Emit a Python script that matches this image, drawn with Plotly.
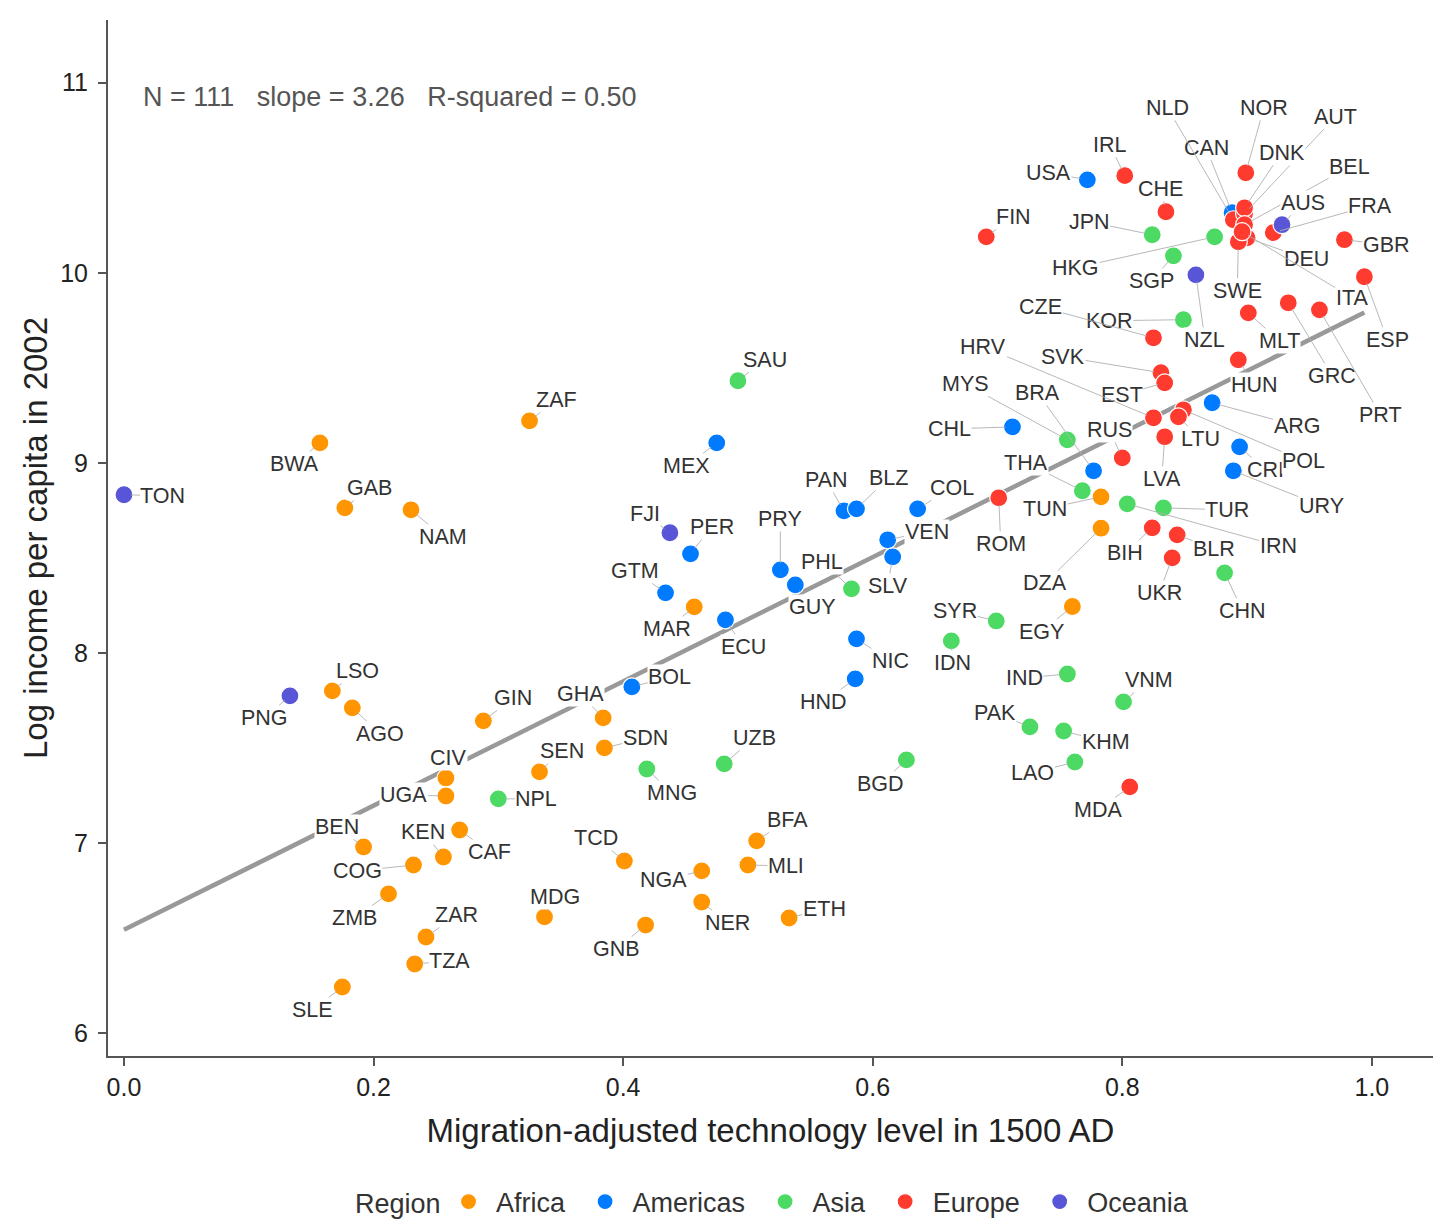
import numpy as np
import plotly.graph_objects as go

# ---------------- data ----------------
regions = ["Africa", "Americas", "Asia", "Europe", "Oceania"]
region_colors = {"Africa": "#FF9500", "Americas": "#007AFF", "Asia": "#4CD964",
                 "Europe": "#FF3B30", "Oceania": "#5856D6"}

africa_codes = ["ZAF", "BWA", "GAB", "NAM", "LSO", "AGO", "GIN", "GHA", "SDN", "SEN", "CIV",
                "UGA", "BEN", "KEN", "CAF", "COG", "ZMB", "ZAR", "TZA", "SLE", "MDG", "TCD",
                "NGA", "NER", "GNB", "BFA", "MLI", "ETH", "MAR", "TUN", "DZA", "EGY"]
africa_x = [0.325, 0.157, 0.177, 0.230, 0.167, 0.183, 0.288, 0.384, 0.385, 0.333, 0.258,
            0.258, 0.192, 0.256, 0.269, 0.232, 0.212, 0.242, 0.233, 0.175, 0.337, 0.401,
            0.463, 0.463, 0.418, 0.507, 0.500, 0.533, 0.457, 0.783, 0.783, 0.760]
africa_y = [9.221, 9.105, 8.763, 8.753, 7.800, 7.711, 7.642, 7.658, 7.500, 7.374, 7.342,
            7.247, 6.979, 6.926, 7.068, 6.884, 6.732, 6.505, 6.363, 6.242, 6.611, 6.905,
            6.853, 6.689, 6.568, 7.011, 6.884, 6.605, 8.242, 8.821, 8.656, 8.244]

americas_codes = ["USA", "CAN", "MEX", "PAN", "BLZ", "COL", "VEN", "SLV", "PER", "PRY", "GUY",
                  "GTM", "ECU", "BOL", "NIC", "HND", "CHL", "BRA", "ARG", "CRI", "URY"]
americas_x = [0.772, 0.888, 0.475, 0.577, 0.587, 0.636, 0.612, 0.616, 0.454, 0.526, 0.538,
              0.434, 0.482, 0.407, 0.587, 0.586, 0.712, 0.777, 0.872, 0.894, 0.889]
americas_y = [10.489, 10.316, 9.105, 8.747, 8.758, 8.758, 8.595, 8.505, 8.521, 8.437, 8.358,
              8.316, 8.174, 7.821, 8.074, 7.863, 9.189, 8.958, 9.316, 9.084, 8.958]

asia_codes = ["SAU", "JPN", "HKG", "SGP", "KOR", "MYS", "THA", "IRN", "TUR", "CHN", "SYR",
              "IDN", "PHL", "IND", "VNM", "PAK", "KHM", "LAO", "BGD", "UZB", "MNG", "NPL"]
asia_x = [0.492, 0.824, 0.874, 0.841, 0.849, 0.756, 0.768, 0.804, 0.833, 0.882, 0.699,
          0.663, 0.583, 0.756, 0.801, 0.726, 0.753, 0.762, 0.627, 0.481, 0.419, 0.300]
asia_y = [9.432, 10.200, 10.189, 10.089, 9.753, 9.121, 8.853, 8.784, 8.763, 8.421, 8.168,
          8.063, 8.337, 7.889, 7.742, 7.611, 7.589, 7.426, 7.437, 7.416, 7.389, 7.232]

europe_codes = ["IRL", "CHE", "FIN", "NOR", "NLD", "AUT", "DNK", "BEL", "DEU", "SWE", "ITA",
                "FRA", "GBR", "ESP", "MLT", "GRC", "PRT", "CZE", "SVK", "EST", "HRV", "HUN",
                "POL", "LTU", "LVA", "RUS", "ROM", "BIH", "BLR", "UKR", "MDA"]
europe_x = [0.802, 0.835, 0.691, 0.899, 0.889, 0.898, 0.898, 0.898, 0.900, 0.893, 0.896,
            0.921, 0.978, 0.994, 0.901, 0.933, 0.958, 0.825, 0.831, 0.834, 0.825, 0.893,
            0.849, 0.845, 0.834, 0.800, 0.701, 0.824, 0.844, 0.840, 0.806]
europe_y = [10.511, 10.321, 10.189, 10.526, 10.279, 10.311, 10.342, 10.253, 10.184, 10.163, 10.216,
            10.211, 10.174, 9.979, 9.789, 9.842, 9.805, 9.658, 9.474, 9.421, 9.237, 9.542,
            9.279, 9.242, 9.137, 9.026, 8.816, 8.658, 8.621, 8.500, 7.295]

oceania_codes = ["TON", "PNG", "FJI", "AUS", "NZL"]
oceania_x = [0.000, 0.133, 0.4375, 0.928, 0.859]
oceania_y = [8.832, 7.774, 8.632, 10.253, 9.989]

stats_text = "N = 111   slope = 3.26   R-squared = 0.50"
x_title = "Migration-adjusted technology level in 1500 AD"
y_title = "Log income per capita in 2002"
x_ticks = [0.0, 0.2, 0.4, 0.6, 0.8, 1.0]
y_ticks = [6, 7, 8, 9, 10, 11]

# ---------------- label placement (pixel offsets of label centre from point) ----------------
label_offsets = {
    "ZAF": (27, -21), "BWA": (-25, 21), "GAB": (25, -20), "NAM": (32, 27), "LSO": (25, -20),
    "AGO": (28, 26), "GIN": (30, -23), "GHA": (-23, -24), "SDN": (41, -10), "SEN": (22, -21),
    "CIV": (3, -20), "UGA": (-42, -1), "BEN": (-27, -20), "KEN": (-20, -25), "CAF": (30, 22),
    "COG": (-56, 6), "ZMB": (-34, 24), "ZAR": (31, -22), "TZA": (35, -3), "SLE": (-30, 23),
    "MDG": (10, -20), "TCD": (-28, -23), "NGA": (-38, 9), "NER": (26, 21), "GNB": (-29, 24),
    "BFA": (31, -21), "MLI": (38, 1), "ETH": (35, -9), "MAR": (-27, 22), "TUN": (-56, 12),
    "DZA": (-56, 55), "EGY": (-31, 25),
    "USA": (-39, -7), "CAN": (-26, -65), "MEX": (-30, 23), "PAN": (-18, -31), "BLZ": (32, -31),
    "COL": (34, -21), "VEN": (39, -8), "SLV": (-5, 29), "PER": (21, -27), "PRY": (0, -51),
    "GUY": (17, 22), "GTM": (-31, -22), "ECU": (18, 27), "BOL": (38, -10), "NIC": (34, 22),
    "HND": (-32, 23), "CHL": (-63, 2), "BRA": (-56, -78), "ARG": (85, 23), "CRI": (26, 23),
    "URY": (88, 35),
    "SAU": (27, -21), "JPN": (-63, -13), "HKG": (-139, 31), "SGP": (-22, 25), "KOR": (-74, 1),
    "MYS": (-102, -56), "THA": (-56, -28), "IRN": (151, 42), "TUR": (64, 2), "CHN": (18, 38),
    "SYR": (-41, -10), "IDN": (1, 22), "PHL": (-29, -27), "IND": (-43, 4), "VNM": (25, -22),
    "PAK": (-35, -14), "KHM": (42, 11), "LAO": (-42, 11), "BGD": (-26, 24), "UZB": (30, -26),
    "MNG": (25, 24), "NPL": (38, 0),
    "IRL": (-15, -31), "CHE": (-5, -23), "FIN": (27, -20), "NOR": (18, -65), "NLD": (-66, -112),
    "AUT": (91, -97), "DNK": (37, -55), "BEL": (105, -58), "DEU": (59, 21), "SWE": (-1, 49),
    "ITA": (110, 66), "FRA": (97, -27), "GBR": (42, 5), "ESP": (23, 63), "MLT": (31, 28),
    "GRC": (44, 73), "PRT": (61, 105), "CZE": (-113, -31), "SVK": (-98, -16), "EST": (-43, 12),
    "HRV": (-170, -71), "HUN": (16, 25), "POL": (120, 51), "LTU": (22, 22), "LVA": (-3, 42),
    "RUS": (-13, -28), "ROM": (2, 46), "BIH": (-27, 25), "BLR": (37, 14), "UKR": (-13, 35),
    "MDA": (-32, 23),
    "TON": (39, 1), "PNG": (-25, 22), "FJI": (-25, -19), "AUS": (21, -22), "NZL": (9, 65),
}

region_data = {
    "Africa": (africa_codes, africa_x, africa_y),
    "Americas": (americas_codes, americas_x, americas_y),
    "Asia": (asia_codes, asia_x, asia_y),
    "Europe": (europe_codes, europe_x, europe_y),
    "Oceania": (oceania_codes, oceania_x, oceania_y),
}

all_x = np.array(africa_x + americas_x + asia_x + europe_x + oceania_x)
all_y = np.array(africa_y + americas_y + asia_y + europe_y + oceania_y)
slope, intercept = np.polyfit(all_x, all_y, 1)
fit_x = np.array([all_x.min(), all_x.max()])
fit_y = intercept + slope * fit_x

FONT = "Liberation Sans, Arial, Helvetica, sans-serif"
NB = "\u00a0"

fig = go.Figure()
fig.add_trace(go.Scatter(x=fit_x, y=fit_y, mode="lines",
                         line=dict(color="#999999", width=4.5),
                         showlegend=False, hoverinfo="skip"))

for i, reg in enumerate(regions):
    codes, xs, ys = region_data[reg]
    trail = NB * 2 if i < len(regions) - 1 else NB
    fig.add_trace(go.Scatter(
        x=xs, y=ys, mode="markers", name=NB + reg + trail, text=codes,
        marker=dict(size=18, color=region_colors[reg], line=dict(color="white", width=1.2)),
    ))

annotations = []
for reg in regions:
    codes, xs, ys = region_data[reg]
    for c, xv, yv in zip(codes, xs, ys):
        ax, ay = label_offsets[c]
        annotations.append(dict(
            x=xv, y=yv, xref="x", yref="y", text=c, showarrow=True,
            ax=ax, ay=ay, axref="pixel", ayref="pixel",
            arrowhead=0, arrowwidth=0.9, arrowcolor="#b0b0b0", standoff=7,
            font=dict(family=FONT, size=21.5, color="#333333"),
            bgcolor="rgba(255,255,255,1)", borderpad=0,
        ))

annotations.append(dict(
    x=0.025, y=0.926, xref="paper", yref="paper", xanchor="left", yanchor="middle",
    text=stats_text, showarrow=False,
    font=dict(family=FONT, size=27, color="#555555"),
))

fig.update_layout(
    width=1455, height=1219,
    margin=dict(l=108, r=22, t=20, b=163, autoexpand=False),
    paper_bgcolor="white", plot_bgcolor="white",
    font=dict(family=FONT, color="#222222"),
    annotations=annotations,
    legend=dict(orientation="h", x=0.534, xanchor="center", xref="container",
                y=0.0139, yanchor="middle", yref="container",
                title=dict(text="Region", font=dict(size=27, color="#333333")),
                font=dict(size=27, color="#333333"), itemsizing="trace"),
    xaxis=dict(range=[-0.0128, 1.049], showgrid=False, zeroline=False, automargin=False,
               showline=True, linecolor="#555555", linewidth=2,
               ticks="outside", ticklen=8, tickwidth=2, tickcolor="#555555",
               tickvals=x_ticks, ticktext=[f"{v:.1f}" for v in x_ticks],
               tickfont=dict(size=25, color="#222222"),
               title=dict(text=x_title, font=dict(size=33, color="#222222"), standoff=19)),
    yaxis=dict(range=[5.879, 11.33], showgrid=False, zeroline=False, automargin=False,
               showline=True, linecolor="#555555", linewidth=2,
               ticks="outside", ticklen=8, tickwidth=2, tickcolor="#555555",
               tickvals=y_ticks, ticktext=[str(v) for v in y_ticks], ticklabelstandoff=5,
               tickfont=dict(size=25, color="#222222"),
               title=dict(text=y_title, font=dict(size=33, color="#222222"), standoff=3)),
)

fig.write_html("out.html")
